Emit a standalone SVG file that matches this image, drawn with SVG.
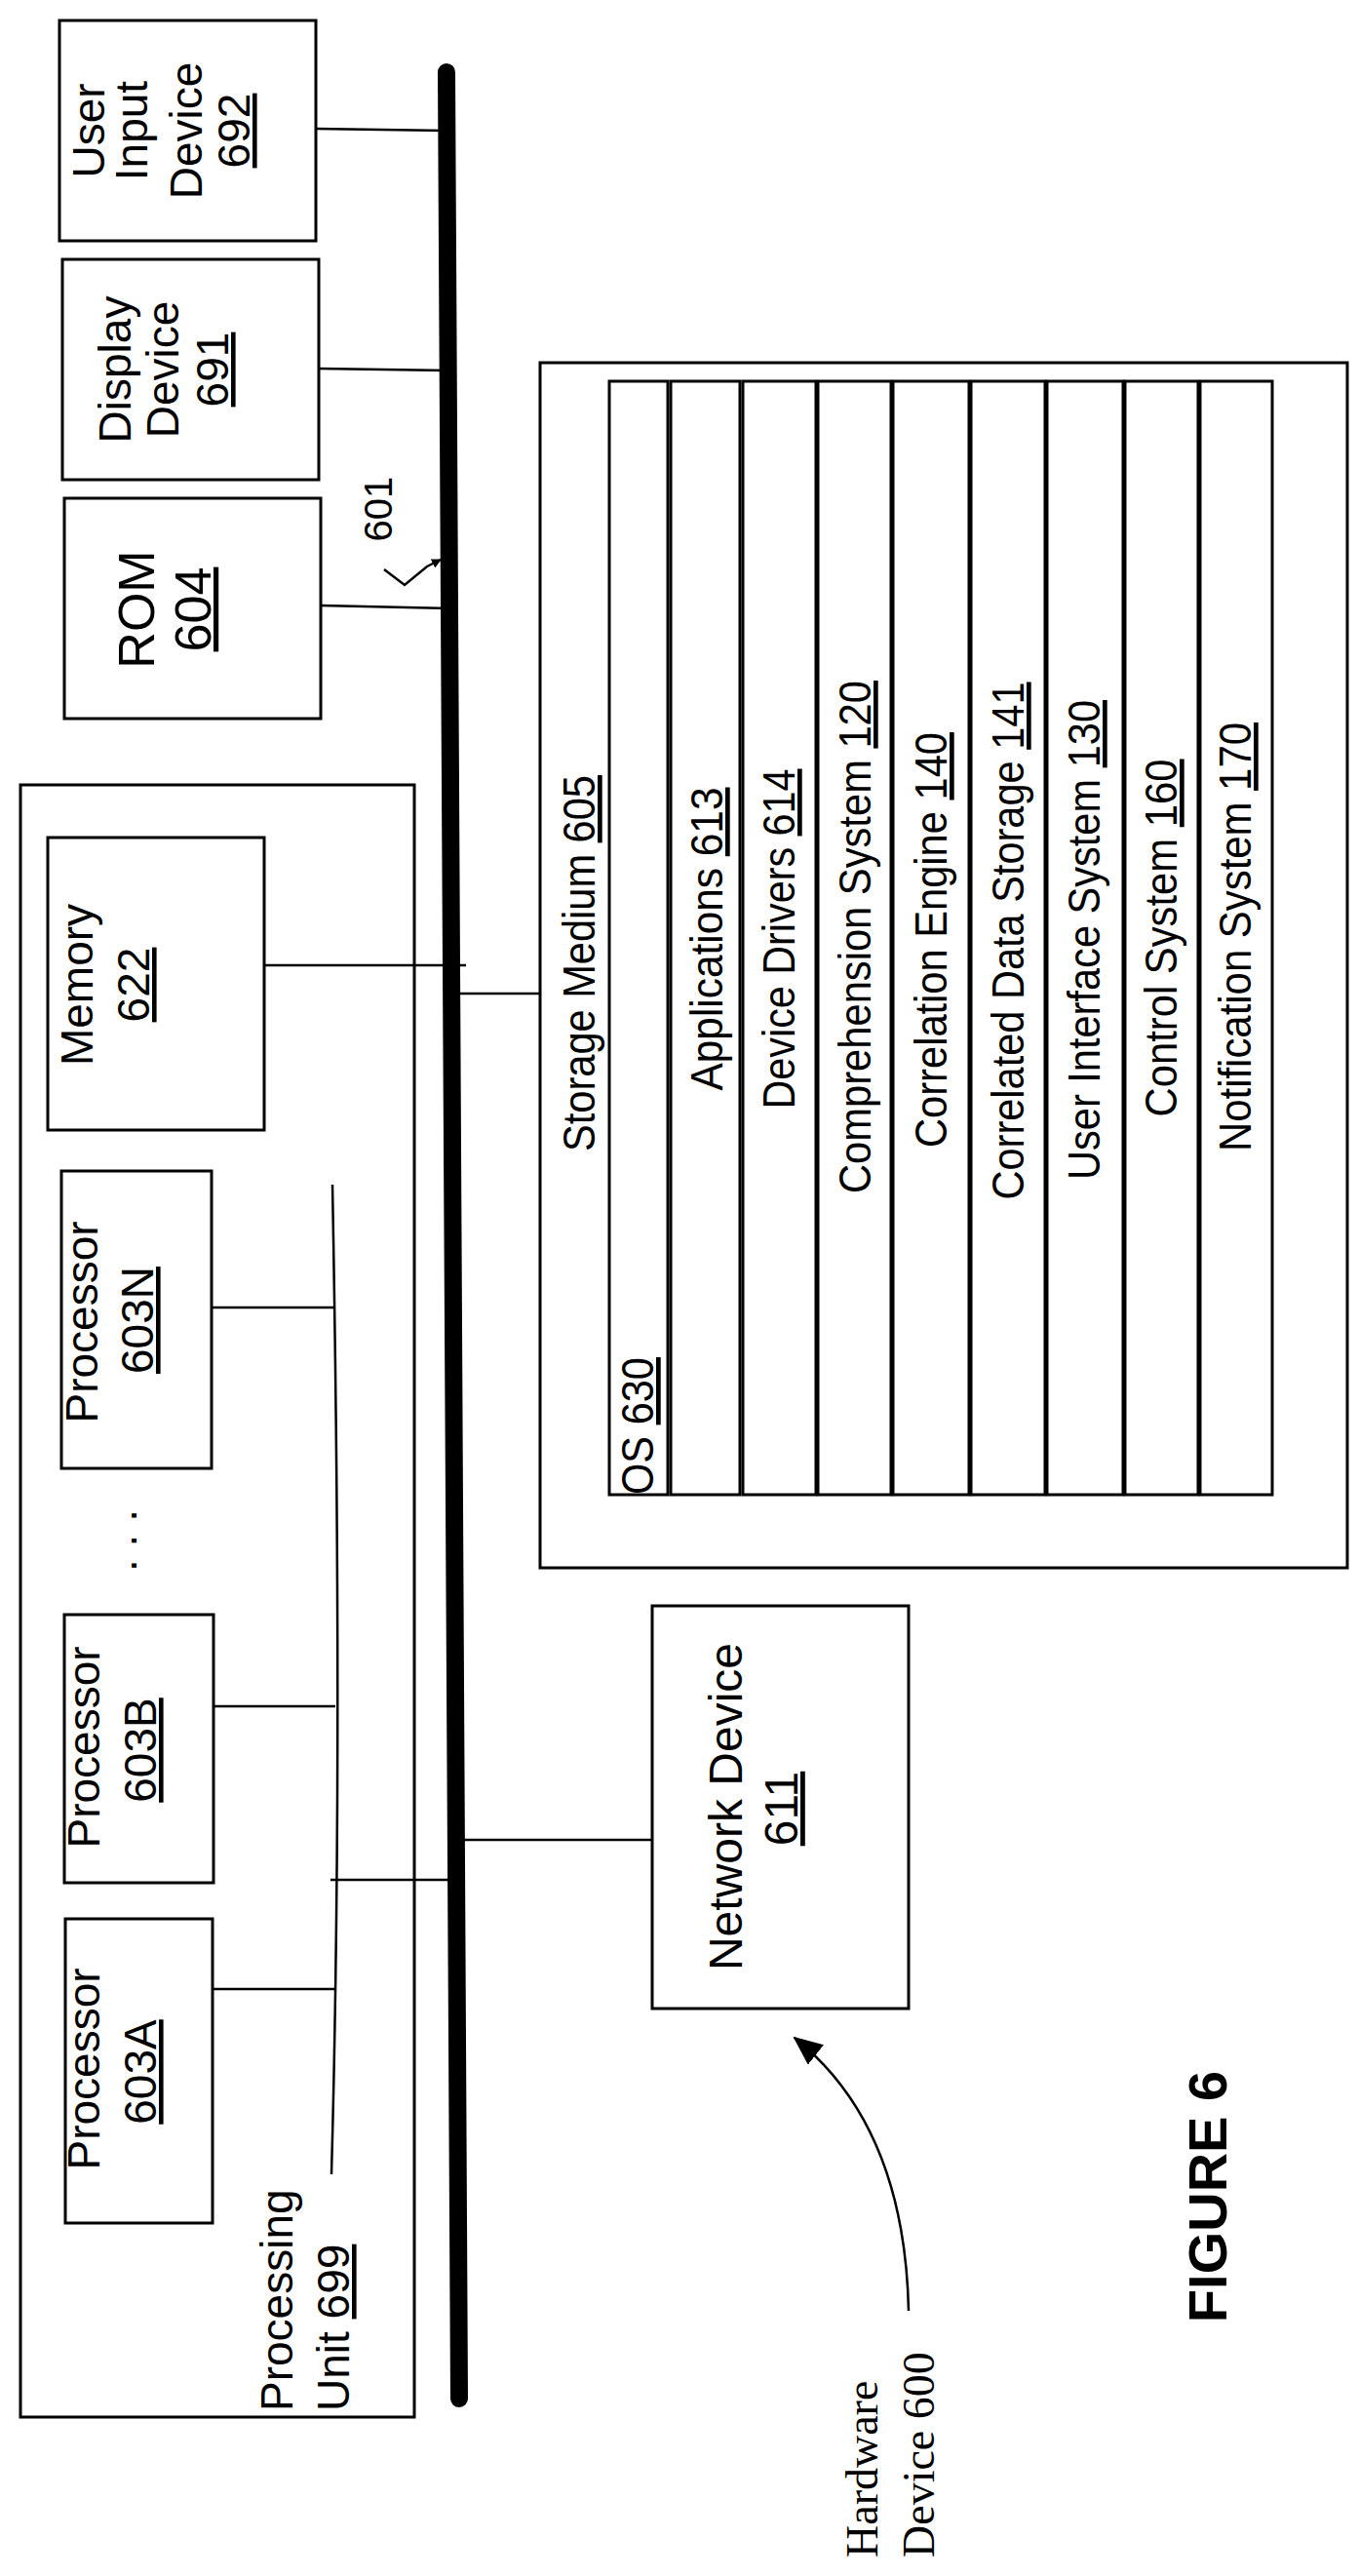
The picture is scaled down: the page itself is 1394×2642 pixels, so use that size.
<svg xmlns="http://www.w3.org/2000/svg" width="1394" height="2642" viewBox="0 0 1394 2642">
<style>
.b{fill:#fff;stroke:#000;stroke-width:3}
.l{fill:none;stroke:#000;stroke-width:2.5}
.t{font-family:"Liberation Sans",Arial,sans-serif;font-size:46px;fill:#000}
.s{font-family:"Liberation Sans",Arial,sans-serif;font-size:47px;fill:#000}
.u{text-decoration:underline}
</style>
<defs><marker id="ah" markerWidth="10" markerHeight="10" refX="9" refY="5" orient="auto" markerUnits="userSpaceOnUse" viewBox="0 0 10 10"><path d="M0,0 L10,5 L0,10 z" fill="#000"/></marker>
<marker id="ah2" markerWidth="30" markerHeight="26" refX="28" refY="13" orient="auto" markerUnits="userSpaceOnUse"><path d="M0,0 L30,13 L0,26 z" fill="#000"/></marker></defs>
<g id="connectors">
<line x1="458" y1="74" x2="471" y2="2460" stroke="#000" stroke-width="18" stroke-linecap="round"/>
<line class="l" x1="324" y1="132" x2="458" y2="134"/>
<line class="l" x1="327" y1="378" x2="460" y2="380"/>
<line class="l" x1="329" y1="621" x2="462" y2="624"/>
<line class="l" x1="271" y1="990" x2="478" y2="990"/>
<line class="l" x1="472" y1="1019" x2="554" y2="1019"/>
<path class="l" d="M341,1215 Q352,1800 340,2230"/>
<line class="l" x1="217" y1="1341" x2="342" y2="1341"/>
<line class="l" x1="219" y1="1750" x2="344" y2="1750"/>
<line class="l" x1="218" y1="2040" x2="345" y2="2040"/>
<line class="l" x1="339" y1="1928" x2="464" y2="1928"/>
<line class="l" x1="476" y1="1887" x2="669" y2="1887"/>
<path class="l" d="M394,584 L415,600 L438,581 L452,574" marker-end="url(#ah)"/>
<path class="l" d="M932,2370 Q928,2180 815,2090" marker-end="url(#ah2)"/>
</g>
<g id="user-input"><rect class="b" x="61" y="21" width="263" height="226"/>
<text class="t" transform="translate(107,134) rotate(-90)" text-anchor="middle">User</text>
<text class="t" transform="translate(151,134) rotate(-90)" text-anchor="middle">Input</text>
<text class="t" transform="translate(207,134) rotate(-90)" text-anchor="middle">Device</text>
<text class="t u" transform="translate(256,134) rotate(-90)" text-anchor="middle">692</text></g>
<g id="display"><rect class="b" x="64" y="266" width="263" height="226"/>
<text class="t" transform="translate(134,379) rotate(-90)" text-anchor="middle">Display</text>
<text class="t" transform="translate(183,379) rotate(-90)" text-anchor="middle">Device</text>
<text class="t u" transform="translate(234,379) rotate(-90)" text-anchor="middle">691</text></g>
<g id="rom"><rect class="b" x="66" y="511" width="263" height="226"/>
<text class="t" style="font-size:52px" transform="translate(158,625) rotate(-90)" text-anchor="middle">ROM</text>
<text class="t u" style="font-size:52px" transform="translate(216,625) rotate(-90)" text-anchor="middle">604</text></g>
<text class="t" style="font-size:40px" transform="translate(402,522) rotate(-90)" text-anchor="middle">601</text>
<g id="processing-unit"><rect class="b" x="21" y="805" width="404" height="1674" style="fill:none"/>
<text class="t" transform="translate(300,2473) rotate(-90)">Processing</text>
<text class="t" transform="translate(358,2473) rotate(-90)">Unit <tspan class="u">699</tspan></text></g>
<g id="memory"><rect class="b" x="49" y="859" width="222" height="300"/>
<text class="t" transform="translate(95,1010) rotate(-90)" text-anchor="middle">Memory</text>
<text class="t u" transform="translate(153,1010) rotate(-90)" text-anchor="middle">622</text></g>
<g id="proc-n"><rect class="b" x="63" y="1201" width="154" height="305"/>
<text class="t" transform="translate(100,1356) rotate(-90)" text-anchor="middle">Processor</text>
<text class="t u" transform="translate(157,1354) rotate(-90)" text-anchor="middle">603N</text></g>
<text class="t" transform="translate(140,1580) rotate(-90)" text-anchor="middle">. . .</text>
<g id="proc-b"><rect class="b" x="66" y="1656" width="153" height="275"/>
<text class="t" transform="translate(102,1792) rotate(-90)" text-anchor="middle">Processor</text>
<text class="t u" transform="translate(160,1795) rotate(-90)" text-anchor="middle">603B</text></g>
<g id="proc-a"><rect class="b" x="67" y="1968" width="151" height="312"/>
<text class="t" transform="translate(102,2122) rotate(-90)" text-anchor="middle">Processor</text>
<text class="t u" transform="translate(160,2125) rotate(-90)" text-anchor="middle">603A</text></g>
<g id="storage"><rect class="b" x="554" y="372" width="828" height="1236"/>
<text class="s" transform="translate(610,988) rotate(-90)" text-anchor="middle" textLength="386" lengthAdjust="spacingAndGlyphs">Storage Medium <tspan class="u">605</tspan></text>
<rect class="b" x="625" y="391" width="60" height="1142"/>
<rect class="b" x="688" y="391" width="71" height="1142"/>
<rect class="b" x="762" y="391" width="75" height="1142"/>
<rect class="b" x="839" y="391" width="75" height="1142"/>
<rect class="b" x="916" y="391" width="78" height="1142"/>
<rect class="b" x="996" y="391" width="76" height="1142"/>
<rect class="b" x="1074" y="391" width="78" height="1142"/>
<rect class="b" x="1154" y="391" width="75" height="1142"/>
<rect class="b" x="1231" y="391" width="74" height="1142"/>
<text class="s" transform="translate(670,1533) rotate(-90)" textLength="141" lengthAdjust="spacingAndGlyphs">OS <tspan class="u">630</tspan></text>
<text class="s" transform="translate(741,963) rotate(-90)" text-anchor="middle" textLength="311" lengthAdjust="spacingAndGlyphs">Applications <tspan class="u">613</tspan></text>
<text class="s" transform="translate(815,963) rotate(-90)" text-anchor="middle" textLength="349" lengthAdjust="spacingAndGlyphs">Device Drivers <tspan class="u">614</tspan></text>
<text class="s" transform="translate(893,961) rotate(-90)" text-anchor="middle" textLength="526" lengthAdjust="spacingAndGlyphs">Comprehension System <tspan class="u">120</tspan></text>
<text class="s" transform="translate(971,964) rotate(-90)" text-anchor="middle" textLength="426" lengthAdjust="spacingAndGlyphs">Correlation Engine <tspan class="u">140</tspan></text>
<text class="s" transform="translate(1050,965) rotate(-90)" text-anchor="middle" textLength="531" lengthAdjust="spacingAndGlyphs">Correlated Data Storage <tspan class="u">141</tspan></text>
<text class="s" transform="translate(1128,964) rotate(-90)" text-anchor="middle" textLength="492" lengthAdjust="spacingAndGlyphs">User Interface System <tspan class="u">130</tspan></text>
<text class="s" transform="translate(1207,962) rotate(-90)" text-anchor="middle" textLength="367" lengthAdjust="spacingAndGlyphs">Control System <tspan class="u">160</tspan></text>
<text class="s" transform="translate(1283,961) rotate(-90)" text-anchor="middle" textLength="440" lengthAdjust="spacingAndGlyphs">Notification System <tspan class="u">170</tspan></text></g>
<g id="network"><rect class="b" x="669" y="1647" width="263" height="413"/>
<text class="t" style="font-size:48px" transform="translate(761,1853) rotate(-90)" text-anchor="middle">Network Device</text>
<text class="t u" style="font-size:48px" transform="translate(818,1855) rotate(-90)" text-anchor="middle">611</text></g>
<g id="hardware"><text style="font-family:'Liberation Serif',serif;font-size:46px" transform="translate(900,2623) rotate(-90)">Hardware</text>
<text style="font-family:'Liberation Serif',serif;font-size:46px" transform="translate(958,2623) rotate(-90)">Device 600</text></g>
<text style="font-family:'Liberation Sans',Arial,sans-serif;font-size:56px;font-weight:bold" transform="translate(1258,2253) rotate(-90)" text-anchor="middle">FIGURE 6</text>
</svg>
